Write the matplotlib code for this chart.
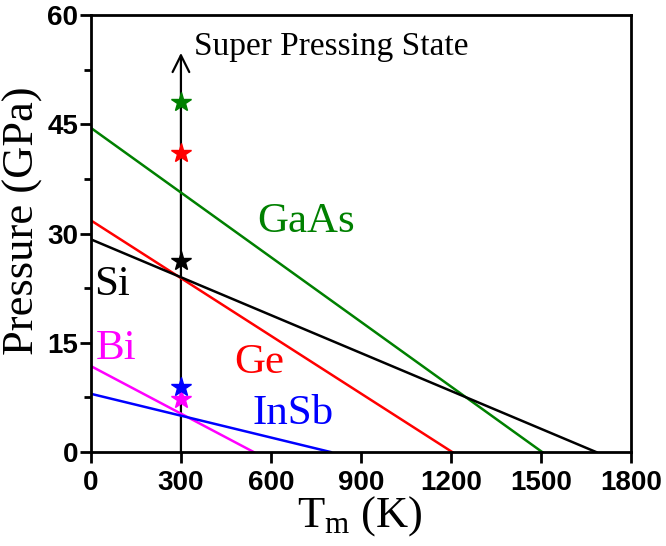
import matplotlib
matplotlib.use("Agg")
import matplotlib.pyplot as plt
from matplotlib.ticker import MultipleLocator

plt.rcParams['mathtext.fontset'] = 'custom'
plt.rcParams['mathtext.rm'] = 'Liberation Serif'
plt.rcParams['mathtext.it'] = 'Liberation Serif:italic'

# melting lines: P at T=0 and T where P drops to 0
materials = ["GaAs", "Ge", "Si", "Bi", "InSb"]
colors = ["#008000", "#ff0000", "black", "#ff00ff", "#0000ff"]
p_at_zero = [44.5, 31.8, 29.2, 11.8, 8.0]
t_at_zero_p = [1505, 1205, 1685, 543, 800]

# super pressing state points at 300 K
star_p = [48.0, 41.0, 26.2, 7.3, 9.0]
star_colors = ["#008000", "#ff0000", "black", "#ff00ff", "#0000ff"]

# label anchors (x, y) per material
label_xy = [(555, 31.6), (478, 12.2), (10, 23.0), (15, 14.2), (540, 5.3)]

fig = plt.figure(figsize=(6.66, 5.46), dpi=100)
ax = fig.add_axes([0.1366, 0.172, 0.947 - 0.1366, 0.9725 - 0.172])

for name, c, p0, t0, (lx, ly) in zip(materials, colors, p_at_zero, t_at_zero_p, label_xy):
    ax.plot([0, t0], [p0, 0], color=c, lw=1.8, zorder=2)
    ax.text(lx, ly, name, color=c, fontsize=31, family="Liberation Serif",
            ha="left", va="center")

# vertical arrow at room temperature
ax.annotate("", xy=(300, 54.8), xytext=(300, 0),
            arrowprops=dict(arrowstyle="->", color="black", lw=1.6,
                            mutation_scale=30, shrinkA=0, shrinkB=0), zorder=1)
ax.text(345, 55.6, "Super Pressing State", fontsize=24, family="Liberation Serif",
        ha="left", va="center")

for p, c in zip(star_p, star_colors):
    ax.plot(300, p, marker="*", color=c, ms=15, mec=c, zorder=3, clip_on=False)

ax.set_xlim(0, 1800)
ax.set_ylim(0, 60)
ax.xaxis.set_major_locator(MultipleLocator(300))
ax.yaxis.set_major_locator(MultipleLocator(15))
ax.yaxis.set_minor_locator(MultipleLocator(7.5))

for s in ax.spines.values():
    s.set_linewidth(2)
ax.tick_params(which="major", direction="out", length=8, width=2)
ax.tick_params(which="minor", direction="out", length=5, width=2)
ax.tick_params(axis="x", which="minor", bottom=False)
ax.tick_params(axis="x", pad=5)
ax.tick_params(axis="y", pad=1)
for lab in ax.get_xticklabels() + ax.get_yticklabels():
    lab.set_family("Liberation Sans")
    lab.set_fontweight("bold")
    lab.set_fontsize(20)

ax.set_xlabel(r"T$_\mathrm{m}$ (K)", fontsize=32, family="Liberation Serif")
ax.set_ylabel("Pressure (GPa)", fontsize=32, family="Liberation Serif")
ax.xaxis.set_label_coords(0.498, -0.095)
ax.yaxis.set_label_coords(-0.088, 0.53)

fig.savefig("out.png", dpi=100)
